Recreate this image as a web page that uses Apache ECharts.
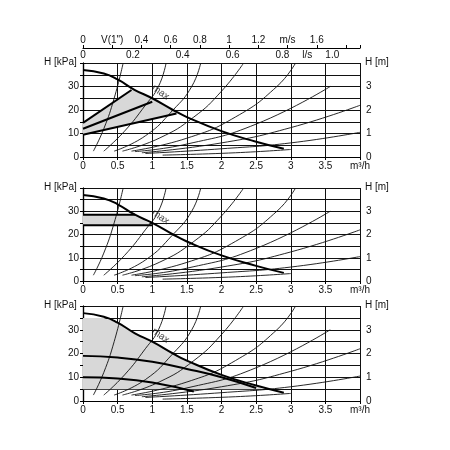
<!DOCTYPE html><html><head><meta charset="utf-8">
<script src="https://cdn.jsdelivr.net/npm/echarts@6/dist/echarts.min.js"></script>
<style>html,body{margin:0;background:#fff}#c{width:450px;height:450px}</style></head><body><div id="c"></div>
<script>
// system curves (Q m3/h, H kPa)
const sys1=[[0.15,2.5],[0.3,12],[0.45,25],[0.58,40]];
const sys2=[[0.3,2.5],[0.6,11],[0.9,22],[1.09,30],[1.2,40]];
const sys3=[[0.45,2.5],[0.9,9],[1.3,20],[1.57,30],[1.7,40]];
const sys4=[[0.57,2.5],[1.1,8],[1.6,17],[2.0,28],[2.32,40]];
const sys5=[[0.7,2.5],[1.5,8],[2.2,17],[2.8,30],[3.07,40]];
const sys6=[[0.75,2.3],[1.5,5.5],[2.5,14],[3.57,30]];
const sys7=[[0.85,1.8],[2,6],[3,12.5],[4,22]];
const sys8=[[0.9,1.5],[2,3.5],[3,6],[4,10.5]];
const sys9=[[1.15,0.8],[2.2,1.8],[3.0,3.2]];
const sysCurves=[sys1,sys2,sys3,sys4,sys5,sys6,sys7,sys8,sys9];
const maxCurve=[[0,37],[0.3,35.5],[0.5,33],[0.75,28.5],[1,25],[1.3,20],[1.5,17],[2,11],[2.5,6.5],[2.9,3.5]];
const p1Lines=[[[0,14.5],[0.7,28.5]],[[0,12],[1,23.5]],[[0,9.5],[1.35,18.5]]];
const p1Area=[[0,9.5],[1.35,18.5],[1,25],[0.75,28.5],[0.7,28.5],[0,14.5]];
const p2Lines=[[[0,28.5],[0.75,28.5]],[[0,24],[1,24]]];
const p2Area=[[0,24],[1,24],[0.75,28.5],[0,28.5]];
const p3Lines=[[[0,19],[0.5,18.3],[1,16.5],[1.5,13.5],[2,10],[2.5,5.5]],[[0,10],[0.5,9.5],[1,7.8],[1.6,4]]];
const p3Area=[[0,35],[0.3,35],[0.5,33],[0.75,28.5],[1,25],[1.3,20],[1.5,17],[2,11],[2.5,6.5],[2.6,5],[0,5]];
const qTicks=['0','0.5','1','1.5','2','2.5','3','3.5','m³/h'];
const lsLabels={0:'0',2:'0.2',4:'0.4',6:'0.6',8:'0.8',9:'l/s',10:'1.0'};
const msLabels={0:'0',1:'V(1")',2:'0.4',3:'0.6',4:'0.8',5:'1',6:'1.2',7:'m/s',8:'1.6'};

const grids=[{top:63,bottom:450-157},{top:188,bottom:450-281},{top:306,bottom:450-401}];
const F={fontFamily:'Liberation Sans',fontSize:10,color:'#111'};
const grid=[],xAxis=[],yAxis=[],series=[],graphic=[];
grids.forEach((g,i)=>{
  grid.push({left:83,right:90,top:g.top,bottom:g.bottom});
  graphic.push({type:'text',left:44,top:g.top-6,style:Object.assign({text:'H [kPa]',fill:'#111',font:'10px Liberation Sans'})});
  graphic.push({type:'text',left:365,top:g.top-6,style:{text:'H [m]',fill:'#111',font:'10px Liberation Sans'}});
  xAxis.push({gridIndex:i,type:'value',min:0,max:4,interval:0.5,
    axisLine:{lineStyle:{color:'#000',width:1.2}},axisTick:{length:3,lineStyle:{color:'#000'}},
    splitLine:{show:true,lineStyle:{color:'#111',width:1}},
    axisLabel:Object.assign({margin:4,formatter:v=>qTicks[Math.round(v*2)]},F)});
  xAxis.push({gridIndex:i,type:'value',position:'top',min:0,max:4/3.6,interval:0.1,
    axisLine:{show:true,lineStyle:{color:'#000',width:1.2}},axisTick:{show:false},splitLine:{show:false},
    axisLabel:Object.assign({show:i===0,margin:3,formatter:v=>{const k=Math.round(v*10);return lsLabels[k]||'';}},F)});
  yAxis.push({gridIndex:i,type:'value',min:0,max:40,interval:5,
    axisLine:{show:true,lineStyle:{color:'#000',width:1.2}},axisTick:{length:3,lineStyle:{color:'#000'}},
    splitLine:{show:true,lineStyle:{color:'#111',width:1}},
    axisLabel:Object.assign({margin:4,formatter:v=>(v%10===0&&v<40)?String(v):''},F)});
  yAxis.push({gridIndex:i,type:'value',min:0,max:4,interval:1,position:'right',
    axisLine:{show:true,lineStyle:{color:'#000',width:1.2}},axisTick:{length:3,lineStyle:{color:'#000'}},
    splitLine:{show:false},axisLabel:Object.assign({margin:6,formatter:v=>v<4?String(v):''},F)});
  const xi=i*2,yi=i*2;
  const area=[p1Area,p2Area,p3Area][i];
  series.push({type:'custom',xAxisIndex:xi,yAxisIndex:yi,z:1,data:[0],renderItem:(p,api)=>({
    type:'polygon',shape:{points:area.map(pt=>api.coord(pt))},style:{fill:'#d8d8d8'}})});
  sysCurves.forEach(c=>series.push({type:'line',xAxisIndex:xi,yAxisIndex:yi,data:c,smooth:true,symbol:'none',z:3,
    lineStyle:{color:'#111',width:0.9}}));
  series.push({type:'line',xAxisIndex:xi,yAxisIndex:yi,data:maxCurve,smooth:true,symbol:'none',z:5,
    lineStyle:{color:'#000',width:2}});
  [p1Lines,p2Lines,p3Lines][i].forEach(l=>series.push({type:'line',xAxisIndex:xi,yAxisIndex:yi,data:l,smooth:true,symbol:'none',z:5,
    lineStyle:{color:'#000',width:2}}));
  series.push({type:'scatter',xAxisIndex:xi,yAxisIndex:yi,data:[[1.12,27.5]],symbolSize:0,z:6,
    label:{show:true,formatter:'max',rotate:-35,fontSize:10,fontFamily:'Liberation Sans',color:'#111',position:'inside'}});
});
xAxis.push({gridIndex:0,type:'value',position:'top',offset:15,min:0,max:4/2.11,interval:0.2,
  axisLine:{show:true,lineStyle:{color:'#000',width:1.2}},axisTick:{length:3,lineStyle:{color:'#000'}},splitLine:{show:false},
  axisLabel:Object.assign({margin:3,formatter:v=>{const k=Math.round(v*5);return msLabels[k]||'';}},F)});
const ch=echarts.init(document.getElementById('c'));
ch.setOption({animation:false,grid,xAxis,yAxis,series,graphic});
</script></body></html>
